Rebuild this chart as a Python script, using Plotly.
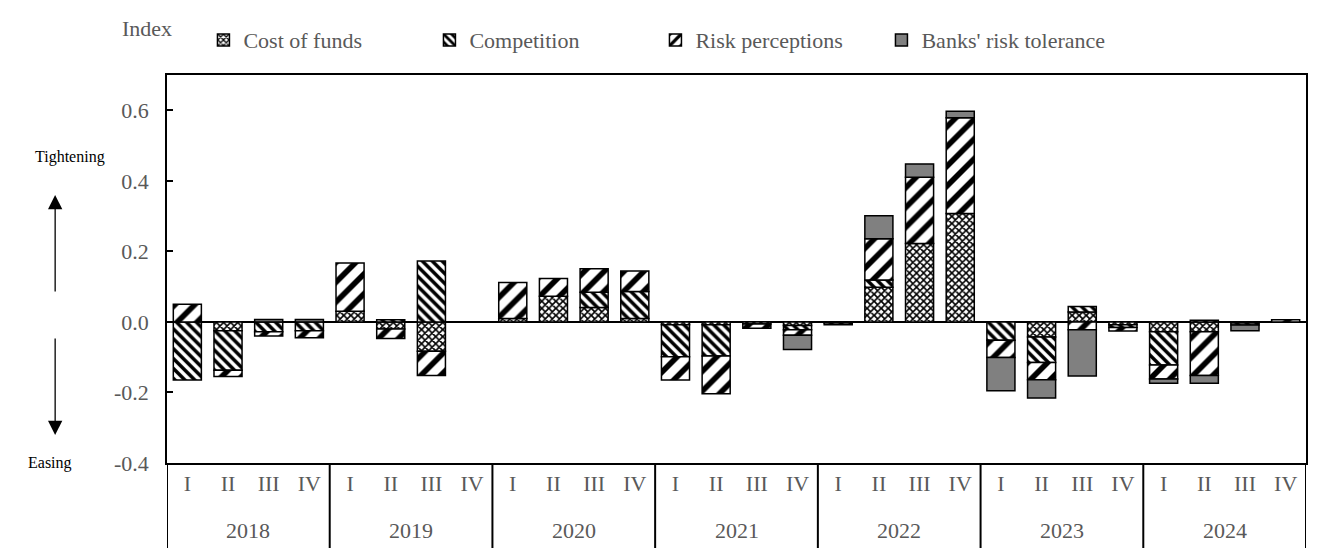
import plotly.graph_objects as go

years = ["2018", "2019", "2020", "2021", "2022", "2023", "2024"]
quarters = ["I", "II", "III", "IV"]

cost_of_funds = [0, -0.025, 0, 0,
                 0.03, -0.02, -0.083, 0,
                 0.01, 0.073, 0.041, 0.01,
                 -0.008, -0.008, -0.006, -0.01,
                 -0.003, 0.098, 0.222, 0.307,
                 0, -0.043, 0.028, -0.008,
                 -0.028, -0.028, -0.003, 0]
competition = [-0.165, -0.112, -0.028, -0.025,
               0, 0.006, 0.173, 0,
               0, 0, 0.043, 0.076,
               -0.091, -0.089, 0, -0.012,
               -0.005, 0.021, 0, 0,
               -0.052, -0.072, 0.016, -0.008,
               -0.094, 0.005, -0.006, 0]
risk_perceptions = [0.05, -0.018, -0.012, -0.02,
                    0.137, -0.027, -0.069, 0,
                    0.102, 0.05, 0.067, 0.058,
                    -0.066, -0.107, -0.012, -0.016,
                    0, 0.117, 0.188, 0.272,
                    -0.049, -0.049, -0.022, -0.01,
                    -0.04, -0.124, 0, 0.006]
risk_tolerance = [0, 0, 0.007, 0.007,
                  0, 0, 0, 0,
                  0, 0, 0, 0,
                  0, 0, 0, -0.04,
                  0, 0.065, 0.038, 0.018,
                  -0.094, -0.052, -0.131, 0,
                  -0.012, -0.022, -0.016, 0]

y_tick_vals = [-0.4, -0.2, 0.0, 0.2, 0.4, 0.6]
y_tick_labels = ["-0.4", "-0.2", "0.0", "0.2", "0.4", "0.6"]

n_q = len(quarters)
x_pos = list(range(len(years) * n_q))
x_quarters = [q for _ in years for q in quarters]

FONT = "Liberation Serif, Times New Roman, serif"
GREY = "#595959"


def clean(vals):
    return [v if v != 0 else None for v in vals]


series = [
    ("Cost of funds", cost_of_funds,
     dict(shape="x", size=5, solidity=0.55, fgcolor="black", bgcolor="white", fgopacity=1)),
    ("Competition", competition,
     dict(shape="\\", size=7, solidity=0.5, fgcolor="black", bgcolor="white", fgopacity=1)),
    ("Risk perceptions", risk_perceptions,
     dict(shape="/", size=14, solidity=0.4, fgcolor="black", bgcolor="white", fgopacity=1)),
    ("Banks' risk tolerance", risk_tolerance, None),
]

fig = go.Figure()
for name, vals, pat in series:
    marker = dict(line=dict(color="black", width=1.5))
    if pat is None:
        marker["color"] = "#808080"
    else:
        marker["color"] = "white"
        marker["pattern"] = pat
    fig.add_trace(go.Bar(name=name, x=x_pos, y=clean(vals), marker=marker))

# page body has an 8px margin, so the figure is sized to fit inside the window
fig.update_layout(
    width=1310, height=540,
    barmode="relative", bargap=0.31,
    plot_bgcolor="white", paper_bgcolor="white",
    margin=dict(l=159, r=10, t=67, b=85),
    font=dict(family=FONT, size=22, color=GREY),
    legend=dict(orientation="h", x=0.032, xanchor="left", y=1.09, yanchor="middle",
                font=dict(family=FONT, size=22, color=GREY), entrywidth=181,
                traceorder="normal"),
    showlegend=True,
)
fig.update_yaxes(range=[-0.4, 0.7], tickvals=y_tick_vals, ticktext=y_tick_labels,
                 ticks="inside", ticklen=6, tickcolor="black", tickwidth=1.5,
                 ticklabelstandoff=12,
                 showline=True, linecolor="black", linewidth=1.5, mirror=True,
                 showgrid=False, zeroline=True, zerolinecolor="black", zerolinewidth=1.5,
                 tickfont=dict(family=FONT, size=22, color=GREY))
fig.update_xaxes(range=[-0.5, len(x_pos) - 0.5], tickvals=x_pos, ticktext=x_quarters,
                 showline=True, linecolor="black", linewidth=1.5, mirror=True,
                 showgrid=False, zeroline=False, ticks="",
                 tickfont=dict(family=FONT, size=22, color=GREY))

# year group labels and group dividers (below the plot area)
bottom = -85 / 388
for i, yr in enumerate(years):
    fig.add_annotation(text=yr, xref="x", yref="paper", x=i * n_q + (n_q - 1) / 2, y=-0.1727,
                       xanchor="center", yanchor="middle", showarrow=False,
                       font=dict(family=FONT, size=22, color=GREY))
for i in range(len(years) + 1):
    fig.add_shape(type="line", xref="x", yref="paper", x0=i * n_q - 0.5, x1=i * n_q - 0.5,
                  y0=0, y1=bottom, line=dict(color="black", width=2))

fig.add_annotation(text="Index", xref="paper", yref="paper", x=-0.0412, y=1.121,
                   xanchor="left", yanchor="middle", showarrow=False,
                   font=dict(family=FONT, size=22, color=GREY))
fig.add_annotation(text="Tightening", xref="paper", yref="paper", x=-0.085, y=0.789,
                   xanchor="center", yanchor="middle", showarrow=False,
                   font=dict(family=FONT, size=16, color="black"))
fig.add_annotation(text="Easing", xref="paper", yref="paper", x=-0.1025, y=0.0,
                   xanchor="center", yanchor="middle", showarrow=False,
                   font=dict(family=FONT, size=16, color="black"))
fig.add_annotation(text="", xref="paper", yref="paper", x=-0.0982, y=0.6907,
                   ax=0, ay=98, showarrow=True, arrowhead=2, arrowsize=2.2, arrowwidth=1.3,
                   arrowcolor="black")
fig.add_annotation(text="", xref="paper", yref="paper", x=-0.0982, y=0.0722,
                   ax=0, ay=-98, showarrow=True, arrowhead=2, arrowsize=2.2, arrowwidth=1.3,
                   arrowcolor="black")

fig.write_html("out.html")
